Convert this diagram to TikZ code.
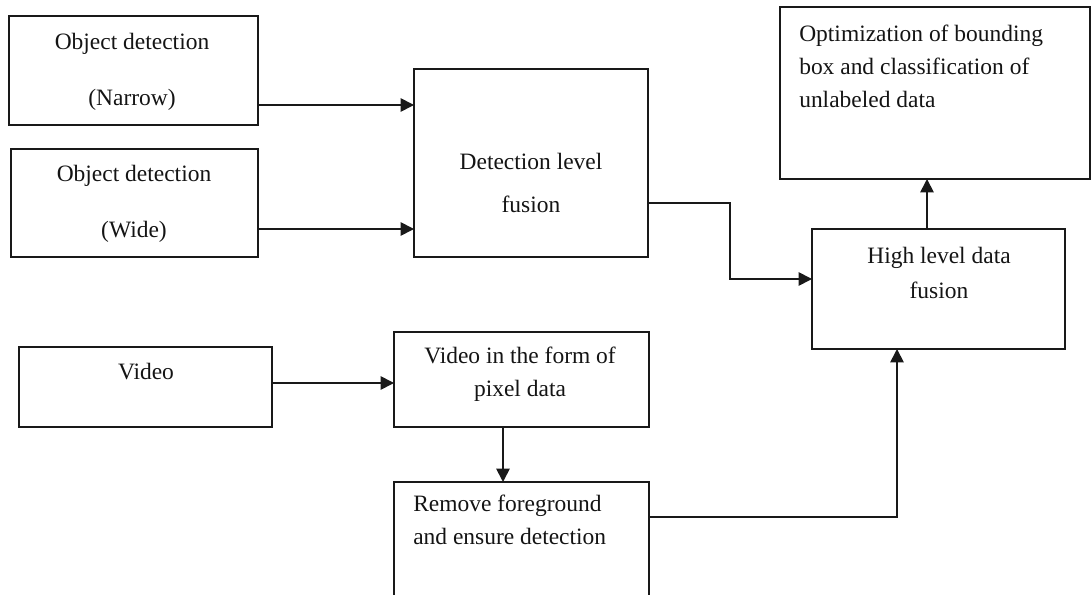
\documentclass[tikz,border=0pt]{standalone}
\usepackage{fontspec}
\setmainfont{Liberation Serif}
\usepackage{tikz}
\usetikzlibrary{
  arrows.meta,
  calc
}
\definecolor{boxline}{RGB}{25, 25, 25}
\definecolor{txtclr}{RGB}{20, 20, 20}
\tikzset{
  % Bloklar (to'rtburchaklar)
  blockbox/.style  = {draw=boxline, line width=1.3pt, rectangle, inner sep=0pt, outer sep=0pt},
  boxdim/.style 2 args = {minimum width=#1*0.75pt, minimum height=#2*0.75pt},
  % Matnlar
  blocktext/.style = {inner sep=0pt, anchor=north, align=center, text=txtclr,
                      font=\fontsize{17.6}{#1}\selectfont},
  blocktext/.default = 24.75,
  % O'qlar
  flowarrow/.style = {draw=boxline, line width=1.3pt, -{Triangle[length=10pt, width=10pt]}},
}

\begin{document}
\begin{tikzpicture}[x=0.75pt, y=-0.75pt]
  \useasboundingbox (0,0) rectangle (1091,595);
  \clip (0,0) rectangle (1091,595);
  % bloklar
  \node[blockbox, boxdim={249}{109}] (narrow)  at (133.5,70.5)  {};
  \node[blockbox, boxdim={247}{108}] (wide)    at (134.5,203)   {};
  \node[blockbox, boxdim={234}{188}] (detfus)  at (531,163)     {};
  \node[blockbox, boxdim={310}{172}] (optim)   at (935,93)      {};
  \node[blockbox, boxdim={253}{120}] (highfus) at (938.5,289)   {};
  \node[blockbox, boxdim={253}{80}]  (video)   at (145.5,387)   {};
  \node[blockbox, boxdim={255}{95}]  (pixel)   at (521.5,379.5) {};
  \node[blockbox, boxdim={255}{160}] (remove)  at (521.5,562)   {};
  % matnlar
  \node[blocktext=42]    (narrowtxt) at (132,33)  {Object detection\\(Narrow)};
  \node[blocktext=42]    (widetxt)   at (134,165) {Object detection\\(Wide)};
  \node[blocktext=32.25] (detfustxt) at (531,153) {Detection level\\fusion};
  \node[blocktext, anchor=north west, align=left] (optimtxt) at (799,25)
    {Optimization of bounding\\box and classification of\\unlabeled data};
  \node[blocktext=26.25] (hightxt)   at (939,247) {High level data\\fusion};
  \node[blocktext]       (videotxt)  at (146,363) {Video};
  \node[blocktext]       (pixeltxt)  at (520,347) {Video in the form of\\pixel data};
  \node[blocktext, anchor=north west, align=left] (removetxt) at (413,495)
    {Remove foreground\\and ensure detection};
  % o'qlar
  \coordinate (n1) at ($(narrow.east)+(0,34.5)$);
  \coordinate (w1) at ($(wide.east)+(0,26)$);
  \coordinate (d1) at ($(detfus.east)+(0,40)$);
  \coordinate (h1) at ($(highfus.west)+(0,-10)$);
  \coordinate (h2) at ($(highfus.north)+(-11.5,0)$);
  \coordinate (v1) at ($(video.east)+(0,-4)$);
  \coordinate (p1) at ($(pixel.south)+(-18.5,0)$);
  \coordinate (r1) at ($(remove.north east)+(0,35)$);
  \draw[flowarrow] (n1) -- (n1 -| detfus.west);
  \draw[flowarrow] (w1) -- (w1 -| detfus.west);
  \draw[flowarrow] (d1) -- ++(82,0) |- (h1);
  \draw[flowarrow] (h2) -- (h2 |- optim.south);
  \draw[flowarrow] (v1) -- (v1 -| pixel.west);
  \draw[flowarrow] (p1) -- (p1 |- remove.north);
  \draw[flowarrow] (r1) -| ($(highfus.south)+(-41.5,0)$);
\end{tikzpicture}
\end{document}
